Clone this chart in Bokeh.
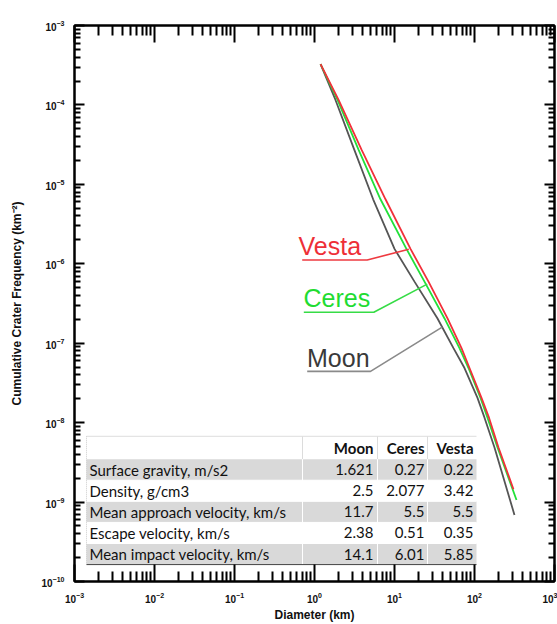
import math
from bokeh.plotting import figure
from bokeh.models import LogAxis, FixedTicker, LogTickFormatter, Range1d, CustomJSTickFormatter, LogScale
from bokeh.core.properties import value
from bokeh.embed import file_html
from bokeh.resources import INLINE

# ---------------- data ----------------
moon_d = [1.19, 1.83, 3.14, 5.41, 10.0, 17.78, 34.5, 54.6, 75.0, 109.0, 133.4, 177.8, 316.0]
moon_n = [3.26e-4, 1.155e-4, 2.74e-5, 6.49e-6, 1.54e-6, 5.96e-7, 2.05e-7, 8.66e-8, 4.87e-8,
          2.05e-8, 1.155e-8, 4.87e-9, 6.88e-10]
ceres_d = [1.19, 1.94, 3.55, 6.68, 14.1, 23.7, 42.2, 64.9, 84.1, 118.9, 145.3, 193.9, 335.0]
ceres_n = [3.26e-4, 1.155e-4, 2.74e-5, 6.49e-6, 1.54e-6, 5.96e-7, 2.05e-7, 8.66e-8, 4.87e-8,
           2.05e-8, 1.155e-8, 4.87e-9, 1.06e-9]
vesta_d = [1.19, 2.0, 3.87, 7.72, 15.85, 26.6, 46.0, 68.8, 86.6, 122.3, 151.8, 199.5, 307.0]
vesta_n = [3.26e-4, 1.155e-4, 2.74e-5, 6.49e-6, 1.54e-6, 5.96e-7, 2.05e-7, 8.66e-8, 4.87e-8,
           2.05e-8, 1.155e-8, 4.87e-9, 1.45e-9]

x_major = [1e-3, 1e-2, 1e-1, 1e0, 1e1, 1e2, 1e3]
y_major = [1e-10, 1e-9, 1e-8, 1e-7, 1e-6, 1e-5, 1e-4, 1e-3]

table_cols = ["Moon", "Ceres", "Vesta"]
table_rows = ["Surface gravity, m/s2", "Density, g/cm3", "Mean approach velocity, km/s",
              "Escape velocity, km/s", "Mean impact velocity, km/s"]
moon_vals = ["1.621", "2.5", "11.7", "2.38", "14.1"]
ceres_vals = ["0.27", "2.077", "5.5", "0.51", "6.01"]
vesta_vals = ["0.22", "3.42", "5.5", "0.35", "5.85"]

# ---------------- layout (window pixels) ----------------
W, H = 557, 624
FL, FR, FT, FB = 74, 554, 25, 584   # frame edges in window px


def dx(px):
    return 10 ** (-3 + (px - FL) / (FR - FL) * 6)


def dy(py):
    return 10 ** (-3 - (py - FT) / (FB - FT) * 7)


p = figure(width=W, height=H, x_axis_type=None, y_axis_type=None,
           x_range=Range1d(1e-3, 1e3), y_range=Range1d(1e-10, 1e-3),
           output_backend="svg", toolbar_location=None,
           min_border_left=FL, min_border_right=W - FR,
           min_border_top=FT, min_border_bottom=H - FB)
p.x_scale = LogScale()
p.y_scale = LogScale()
p.grid.visible = False
p.outline_line_color = "black"
p.outline_line_width = 2
p.background_fill_color = "white"
p.border_fill_color = "white"

x_minor = [m * t for t in x_major[:-1] for m in range(2, 10)]
y_minor = [m * t for t in y_major[:-1] for m in range(2, 10)]

xt = FixedTicker(ticks=x_major, minor_ticks=x_minor)
yt = FixedTicker(ticks=y_major, minor_ticks=y_minor)

blank_x = CustomJSTickFormatter(code="return ''")
blank_y = CustomJSTickFormatter(code="return ''")
bottom_axis = LogAxis(ticker=xt, formatter=LogTickFormatter(), axis_label="Diameter (km)")
left_axis = LogAxis(ticker=yt, formatter=LogTickFormatter(),
                    axis_label="Cumulative Crater Frequency (km\u207b\u00b2)")
top_axis = LogAxis(ticker=xt, formatter=blank_x)
right_axis = LogAxis(ticker=yt, formatter=blank_y)
p.add_layout(bottom_axis, "below")
p.add_layout(left_axis, "left")
p.add_layout(top_axis, "above")
p.add_layout(right_axis, "right")

for ax in [bottom_axis, top_axis]:
    ax.major_tick_in = 17
    ax.minor_tick_in = 10
for ax in [left_axis, right_axis]:
    ax.major_tick_in = 10
    ax.minor_tick_in = 6

for ax in [bottom_axis, top_axis, left_axis, right_axis]:
    ax.major_tick_out = 0
    ax.minor_tick_out = 0
    ax.axis_line_width = 2
    ax.major_tick_line_width = 2
    ax.minor_tick_line_width = 2
    ax.axis_line_color = "black"
    ax.major_tick_line_color = "black"
    ax.minor_tick_line_color = "black"
    ax.major_label_text_font = "Liberation Sans"
    ax.major_label_text_font_style = "bold"
    ax.major_label_text_font_size = "10px"
    ax.major_label_text_color = "#111111"
    ax.axis_label_text_font = "Liberation Sans"
    ax.axis_label_text_font_style = "bold"
    ax.axis_label_text_font_size = "12px"
    ax.axis_label_text_color = "#111111"

for ax in [top_axis, right_axis]:
    ax.major_label_standoff = 0

bottom_axis.major_label_standoff = 10
bottom_axis.axis_label_standoff = 2
left_axis.major_label_standoff = 10
left_axis.axis_label_standoff = 15

# ---------------- curves ----------------
p.line(moon_d, moon_n, line_color="#555555", line_width=1.8)
p.line(ceres_d, ceres_n, line_color="#22e03a", line_width=1.8)
p.line(vesta_d, vesta_n, line_color="#f2303a", line_width=1.8)

# ---------------- curve labels with leaders ----------------
labels = [
    ("Vesta", "#ee2f37", "#ee3a40", 298, 247, [(301.7, 260.7), (366.7, 260.7), (408.3, 250)]),
    ("Ceres", "#1fdc32", "#36dc46", 303, 298.5, [(303.3, 313.3), (373.3, 313.3), (426.7, 285)]),
    ("Moon", "#3a3a3a", "#8a8a8a", 306.5, 359.5, [(306.7, 372.7), (370, 372.7), (441.7, 328.3)]),
]
for name, tcol, lcol, tx, ty, pts in labels:
    p.line([dx(a) for a, b in pts], [dy(b) for a, b in pts], line_color=lcol, line_width=1.6)
    p.text(x=[dx(tx)], y=[dy(ty)], text=[name], text_color=tcol,
           text_font=value("Liberation Sans"), text_font_size="25px",
           text_align="left", text_baseline="alphabetic")

# ---------------- table ----------------
TL, TR = 86, 476
head_top, head_bot = 438, 461
row_h = (567 - head_bot) / 5
row_tops = [head_bot + i * row_h for i in range(5)]

p.quad(left=[dx(TL)], right=[dx(TR)], top=[dy(head_top)], bottom=[dy(567)],
       fill_color="white", line_color=None)
gray_rows = [i for i in range(5) if i % 2 == 0]
p.quad(left=[dx(TL)] * len(gray_rows), right=[dx(TR)] * len(gray_rows),
       top=[dy(row_tops[i]) for i in gray_rows],
       bottom=[dy(row_tops[i] + row_h) for i in gray_rows],
       fill_color="#d9d9d9", line_color=None)

# separators
sep_x = [302, 377, 427]
for sx in sep_x:
    p.line([dx(sx), dx(sx)], [dy(head_top), dy(head_bot)], line_color="#dcdcdc", line_width=1)
    p.line([dx(sx), dx(sx)], [dy(head_bot), dy(567)], line_color="white", line_width=1)
for i in range(1, 5):
    yy = row_tops[i]
    p.line([dx(TL), dx(TR)], [dy(yy), dy(yy)], line_color="white", line_width=1)
p.line([dx(TL), dx(TR)], [dy(head_top), dy(head_top)], line_color="#dddddd", line_width=1)
p.line([dx(TL), dx(TL)], [dy(head_top), dy(567)], line_color="#cccccc", line_width=1,
       line_dash="1 1")
p.line([dx(TL), dx(TR)], [dy(567), dy(567)], line_color="#444444", line_width=1)

col_right = [373, 424, 473]
p.text(x=[dx(c) for c in col_right], y=[dy((head_top + head_bot) / 2)] * 3, text=table_cols,
       text_font=value("Lato"), text_font_style="bold", text_font_size="15px",
       text_color="#111111", text_align="right", text_baseline="middle")

row_mid = [dy(t + row_h / 2) for t in row_tops]
p.text(x=[dx(89)] * 5, y=row_mid, text=table_rows,
       text_font=value("Lato"), text_font_size="15px", text_color="#111111",
       text_align="left", text_baseline="middle")
for c, vals in zip(col_right, [moon_vals, ceres_vals, vesta_vals]):
    p.text(x=[dx(c)] * 5, y=row_mid, text=vals,
           text_font=value("Lato"), text_font_size="15px", text_color="#111111",
           text_align="right", text_baseline="middle")

open("out.html", "w").write(file_html(p, INLINE))
